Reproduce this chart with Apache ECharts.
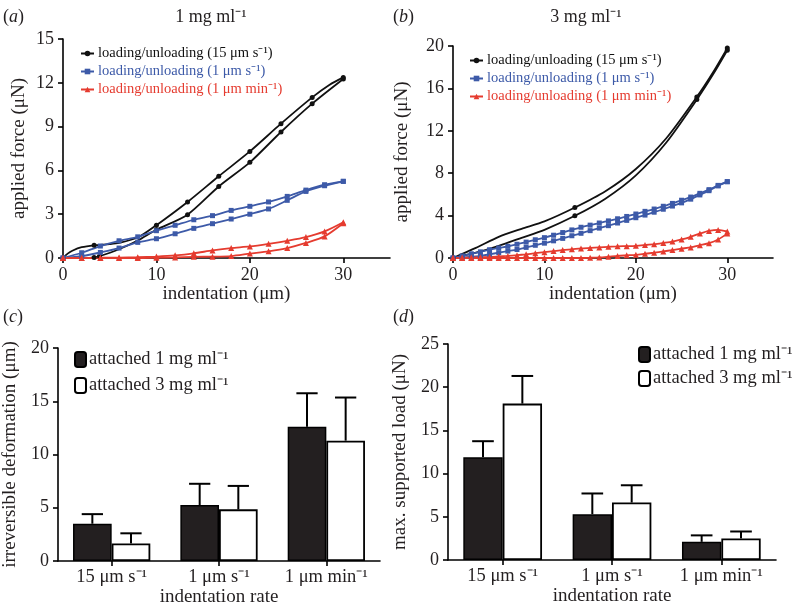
<!DOCTYPE html>
<html>
<head>
<meta charset="utf-8">
<script src="https://cdn.jsdelivr.net/npm/echarts@6/dist/echarts.min.js"></script>
<style>
html,body{margin:0;padding:0;background:#fff;}
#main{width:793px;height:613px;}
</style>
</head>
<body>
<div id="main"></div>
<script>
// ---------------- DATA ----------------
// each point: [indentation (µm), force (µN), marker? 1/0]
// Panel (a) 1 mg/ml
const a15Upper = [[0,0,1],[0.5,0.3,0],[1,0.5,0],[2,0.74,0],[3.33,0.87,1],[5,0.95,0],[6,1.03,0],[8,1.4,0],[10,2.25,1],[13.33,3.84,1],[16.67,5.6,1],[20,7.3,1],[23.33,9.2,1],[26.67,11.0,1],[28.5,11.85,0],[30,12.37,1]];
const a15Lower = [[2.85,0,0],[3.33,0.04,1],[3.9,0.12,1],[6,0.6,0],[8,1.2,0],[10,1.94,1],[13.33,2.97,1],[16.67,4.9,1],[20,6.55,1],[23.33,8.63,1],[26.67,10.57,1],[30,12.26,1]];
const a1sUpper = [[0,0,1],[2,0.36,1],[4,0.82,1],[6,1.18,1],[8,1.45,1],[10,1.87,1],[12,2.24,1],[14,2.62,1],[16,2.9,1],[18,3.26,1],[20,3.54,1],[22,3.84,1],[24,4.22,1],[26,4.65,1],[28,5.02,1],[30,5.25,1]];
const a1sLower = [[0,0,1],[2,0.12,1],[4,0.38,1],[6,0.68,1],[8,1.07,1],[10,1.32,1],[12,1.66,1],[14,2.03,1],[16,2.35,1],[18,2.67,1],[20,3.0,1],[22,3.36,1],[24,3.95,1],[26,4.56,1],[28,4.95,1],[30,5.25,1]];
const a1mUpper = [[0,0,1],[2,0,1],[4,0.02,1],[6,0.03,1],[8,0.05,1],[10,0.1,1],[12,0.18,1],[14,0.32,1],[16,0.52,1],[18,0.68,1],[20,0.79,1],[22,0.97,1],[24,1.18,1],[26,1.43,1],[28,1.82,1],[30,2.45,1]];
const a1mLower = [[0,0,1],[2,0,1],[4,0,1],[6,0,1],[8,0,1],[10,0.02,1],[12,0.04,1],[14,0.08,1],[16,0.09,1],[18,0.13,1],[20,0.3,1],[22,0.46,1],[24,0.68,1],[26,1.03,1],[28,1.48,1],[30,2.38,1]];
// Panel (b) 3 mg/ml
const b15Upper = [[0,0,1],[2.5,0.95,0],[5,2.0,0],[7.5,2.75,0],[10,3.45,0],[13.33,4.76,1],[16.67,6.3,0],[20,8.4,0],[23.33,11.3,0],[26.67,15.2,1],[28.5,17.6,0],[30,19.8,1]];
const b15Lower = [[0,0,1],[2.5,0.5,0],[5,1.15,0],[7.5,1.9,0],[10,2.66,0],[13.33,3.98,1],[16.67,5.6,0],[20,7.8,0],[23.33,10.9,0],[26.67,14.95,1],[28.5,17.4,0],[30,19.6,1]];
const b1sUpper = [[0,0,1],[1,0.2,1],[2,0.4,1],[3,0.58,1],[4,0.78,1],[5,0.95,1],[6,1.1,1],[7,1.3,1],[8,1.5,1],[9,1.72,1],[10,1.92,1],[11,2.15,1],[12,2.4,1],[13,2.65,1],[14,2.9,1],[15,3.1,1],[16,3.3,1],[17,3.5,1],[18,3.7,1],[19,3.92,1],[20,4.15,1],[21,4.4,1],[22,4.62,1],[23,4.88,1],[24,5.15,1],[25,5.45,1],[26,5.75,1],[27,6.1,1],[28,6.45,1],[29,6.85,1],[30,7.2,1]];
const b1sLower = [[0,0,1],[1,0.05,1],[2,0.12,1],[3,0.2,1],[4,0.35,1],[5,0.5,1],[6,0.65,1],[7,0.8,1],[8,1.0,1],[9,1.2,1],[10,1.4,1],[11,1.62,1],[12,1.85,1],[13,2.1,1],[14,2.33,1],[15,2.58,1],[16,2.82,1],[17,3.05,1],[18,3.3,1],[19,3.55,1],[20,3.8,1],[21,4.05,1],[22,4.32,1],[23,4.6,1],[24,4.9,1],[25,5.2,1],[26,5.55,1],[27,5.95,1],[28,6.35,1],[29,6.8,1],[30,7.2,1]];
const b1mUpper = [[0,0,1],[1,0.02,1],[2,0.05,1],[3,0.08,1],[4,0.1,1],[5,0.15,1],[6,0.2,1],[7,0.27,1],[8,0.35,1],[9,0.45,1],[10,0.55,1],[11,0.65,1],[12,0.75,1],[13,0.82,1],[14,0.9,1],[15,0.95,1],[16,1.0,1],[17,1.05,1],[18,1.1,1],[19,1.12,1],[20,1.15,1],[21,1.22,1],[22,1.3,1],[23,1.42,1],[24,1.55,1],[25,1.75,1],[26,2.0,1],[27,2.3,1],[28,2.55,1],[29,2.65,1],[30,2.5,1]];
const b1mLower = [[0,0,1],[1,0,1],[2,0,1],[3,0,1],[4,0,1],[5,0,1],[6,0,1],[7,0,1],[8,0,1],[9,0,1],[10,0,1],[11,0,1],[12,0,1],[13,0,1],[14,0,1],[15,0.02,1],[16,0.05,1],[17,0.12,1],[18,0.2,1],[19,0.25,1],[20,0.3,1],[21,0.4,1],[22,0.5,1],[23,0.62,1],[24,0.75,1],[25,0.88,1],[26,1.0,1],[27,1.2,1],[28,1.4,1],[29,1.75,1],[30,2.3,1]];

// Panels (c) and (d)
const rateCats = ['15 μm s⁻¹', '1 μm s⁻¹', '1 μm min⁻¹'];
const cMean1 = [3.5, 5.25, 12.6];
const cSd1   = [0.9, 2.0, 3.15];
const cMean3 = [1.65, 4.85, 11.3];
const cSd3   = [0.95, 2.2, 4.05];
const dMean1 = [11.9, 5.3, 2.1];
const dSd1   = [1.85, 2.4, 0.75];
const dMean3 = [18.1, 6.65, 2.5];
const dSd3   = [3.2, 2.0, 0.8];

const lineNames = ['loading/unloading (15 μm s⁻¹)', 'loading/unloading (1 μm s⁻¹)', 'loading/unloading (1 μm min⁻¹)'];
const barNames = ['attached 1 mg ml⁻¹', 'attached 3 mg ml⁻¹'];

// ---------------- STYLE ----------------
const FONT = 'Liberation Serif';
const TXT = '#231f20';
const BLACK = '#111111', BLUE = '#3d5aa8', RED = '#e53b2f';
const BAR_FRAC = 0.36;

function lineSeries(name, pts, color, symbol, size, g) {
  return {
    type: 'line', name: name, xAxisIndex: g, yAxisIndex: g,
    smooth: 0.25,
    symbol: symbol, symbolSize: size, showAllSymbol: true,
    lineStyle: { color: color, width: 1.8 },
    itemStyle: { color: color },
    data: pts.map(p => ({ value: [p[0], p[1]], symbol: p[2] ? symbol : 'none' })),
    emphasis: { disabled: true }, silent: true, z: 3
  };
}

function errRender(side) {
  return function (params, api) {
    const i = api.value(0), m = api.value(1), s = api.value(2);
    const band = api.size([1, 0])[0];
    const bw = band * BAR_FRAC;
    const base = api.coord([i, m]);
    const top = api.coord([i, m + s]);
    const x = base[0] + side * bw / 2;
    const cap = bw * 0.55;
    return {
      type: 'group', children: [
        { type: 'line', shape: { x1: x, y1: base[1], x2: x, y2: top[1] }, style: { stroke: '#000', lineWidth: 2 } },
        { type: 'line', shape: { x1: x - cap / 2, y1: top[1], x2: x + cap / 2, y2: top[1] }, style: { stroke: '#000', lineWidth: 2 } }
      ]
    };
  };
}

function barPair(mean1, sd1, mean3, sd3, g) {
  return [
    { type: 'bar', name: barNames[0], xAxisIndex: g, yAxisIndex: g, data: mean1, barWidth: (BAR_FRAC * 100) + '%', barGap: '0%',
      itemStyle: { color: '#231f20', borderColor: '#000', borderWidth: 1.5 }, silent: true },
    { type: 'bar', name: barNames[1], xAxisIndex: g, yAxisIndex: g, data: mean3, barWidth: (BAR_FRAC * 100) + '%', barGap: '0%',
      itemStyle: { color: '#ffffff', borderColor: '#000', borderWidth: 1.8 }, silent: true },
    { type: 'custom', xAxisIndex: g, yAxisIndex: g, data: mean1.map((v, i) => [i, v, sd1[i]]), renderItem: errRender(-1), z: 5, silent: true },
    { type: 'custom', xAxisIndex: g, yAxisIndex: g, data: mean3.map((v, i) => [i, v, sd3[i]]), renderItem: errRender(1), z: 5, silent: true }
  ];
}

const axisLineStyle = { show: true, lineStyle: { color: '#000', width: 1.6 } };
const tickStyle = { show: true, length: 5, lineStyle: { color: '#000', width: 1.6 } };
const labelStyle = { color: TXT, fontFamily: FONT, fontSize: 18 };
const nameStyle = { color: TXT, fontFamily: FONT, fontSize: 19 };

function valueX(g, name, gap) {
  return {
    type: 'value', gridIndex: g, min: 0, max: 35,
    axisLine: axisLineStyle,
    axisTick: Object.assign({}, tickStyle, { customValues: [0, 10, 20, 30] }),
    axisLabel: Object.assign({}, labelStyle, { customValues: [0, 10, 20, 30], margin: 8 }),
    splitLine: { show: false },
    name: name, nameLocation: 'middle', nameGap: gap, nameTextStyle: nameStyle
  };
}
function valueY(g, max, interval, name, gap) {
  return {
    type: 'value', gridIndex: g, min: 0, max: max, interval: interval,
    axisLine: axisLineStyle, axisTick: tickStyle,
    axisLabel: Object.assign({}, labelStyle, { margin: 9 }),
    splitLine: { show: false },
    name: name, nameLocation: 'middle', nameGap: gap, nameTextStyle: nameStyle
  };
}
function catX(g, gap) {
  return {
    type: 'category', gridIndex: g, data: rateCats,
    axisLine: axisLineStyle,
    axisTick: Object.assign({}, tickStyle, { alignWithLabel: true, interval: 0 }),
    axisLabel: Object.assign({}, labelStyle, { fontSize: 18.5, margin: 7, interval: 0, hideOverlap: false }),
    name: 'indentation rate', nameLocation: 'middle', nameGap: gap, nameTextStyle: nameStyle
  };
}

function lineLegend(left, top) {
  const cols = [BLACK, BLUE, RED];
  return {
    orient: 'vertical', left: left, top: top, padding: 0, itemWidth: 13, itemHeight: 7, itemGap: 3,
    selectedMode: false,
    textStyle: { fontFamily: FONT, fontSize: 14.5, lineHeight: 15, padding: [0, 0, 0, -1] },
    data: lineNames.map((n, i) => ({ name: n, textStyle: { color: cols[i] } }))
  };
}
function barLegend(left, top, gap) {
  return {
    orient: 'vertical', left: left, top: top, padding: 0, itemWidth: 11, itemHeight: 15, itemGap: gap,
    selectedMode: false,
    textStyle: { fontFamily: FONT, fontSize: 18.5, lineHeight: 17, color: TXT, padding: [0, 0, 0, -2] },
    data: barNames.map(n => ({ name: n }))
  };
}

function panelLabel(x, y, letter) {
  return {
    type: 'text', left: x, top: y,
    style: { text: '{n|(}{i|' + letter + '}{n|)}', rich: {
      n: { fontFamily: FONT, fontSize: 18, fill: TXT },
      i: { fontFamily: FONT, fontSize: 18, fontStyle: 'italic', fill: TXT } } }
  };
}
function topTitle(cx, y, txt) {
  return { type: 'text', x: cx, y: y, style: { text: txt, fontFamily: FONT, fontSize: 18, fill: TXT, align: 'center', verticalAlign: 'middle' } };
}

const chart = echarts.init(document.getElementById('main'));
chart.setOption({
  animation: false,
  backgroundColor: '#fff',
  grid: [
    { left: 63, top: 39, width: 327, height: 219 },
    { left: 453, top: 46, width: 320, height: 212 },
    { left: 57, top: 348, width: 323, height: 213 },
    { left: 448, top: 344, width: 328, height: 216 }
  ],
  xAxis: [
    valueX(0, 'indentation (μm)', 27),
    valueX(1, 'indentation (μm)', 27),
    catX(2, 24),
    catX(3, 24)
  ],
  yAxis: [
    valueY(0, 15, 3, 'applied force (μN)', 34),
    valueY(1, 20, 4, 'applied force (μN)', 41),
    valueY(2, 20, 5, 'irreversible deformation (μm)', 38),
    valueY(3, 25, 5, 'max. supported load (μN)', 38)
  ],
  legend: [
    lineLegend(80, 46),
    lineLegend(469, 53),
    barLegend(74, 350, 7),
    barLegend(638, 345, 5)
  ],
  graphic: [
    panelLabel(3, 8, 'a'),
    panelLabel(393, 8, 'b'),
    panelLabel(3, 308, 'c'),
    panelLabel(393, 308, 'd'),
    topTitle(211, 17, '1 mg ml⁻¹'),
    topTitle(586, 17, '3 mg ml⁻¹')
  ],
  series: [
    lineSeries(lineNames[0], a15Upper, BLACK, 'circle', 5, 0),
    lineSeries(lineNames[0], a15Lower, BLACK, 'circle', 5, 0),
    lineSeries(lineNames[1], a1sUpper, BLUE, 'rect', 5, 0),
    lineSeries(lineNames[1], a1sLower, BLUE, 'rect', 5, 0),
    lineSeries(lineNames[2], a1mUpper, RED, 'triangle', 6, 0),
    lineSeries(lineNames[2], a1mLower, RED, 'triangle', 6, 0),
    lineSeries(lineNames[0], b15Upper, BLACK, 'circle', 5, 1),
    lineSeries(lineNames[0], b15Lower, BLACK, 'circle', 5, 1),
    lineSeries(lineNames[1], b1sUpper, BLUE, 'rect', 5, 1),
    lineSeries(lineNames[1], b1sLower, BLUE, 'rect', 5, 1),
    lineSeries(lineNames[2], b1mUpper, RED, 'triangle', 6, 1),
    lineSeries(lineNames[2], b1mLower, RED, 'triangle', 6, 1)
  ].concat(barPair(cMean1, cSd1, cMean3, cSd3, 2), barPair(dMean1, dSd1, dMean3, dSd3, 3))
});
</script>
</body>
</html>
